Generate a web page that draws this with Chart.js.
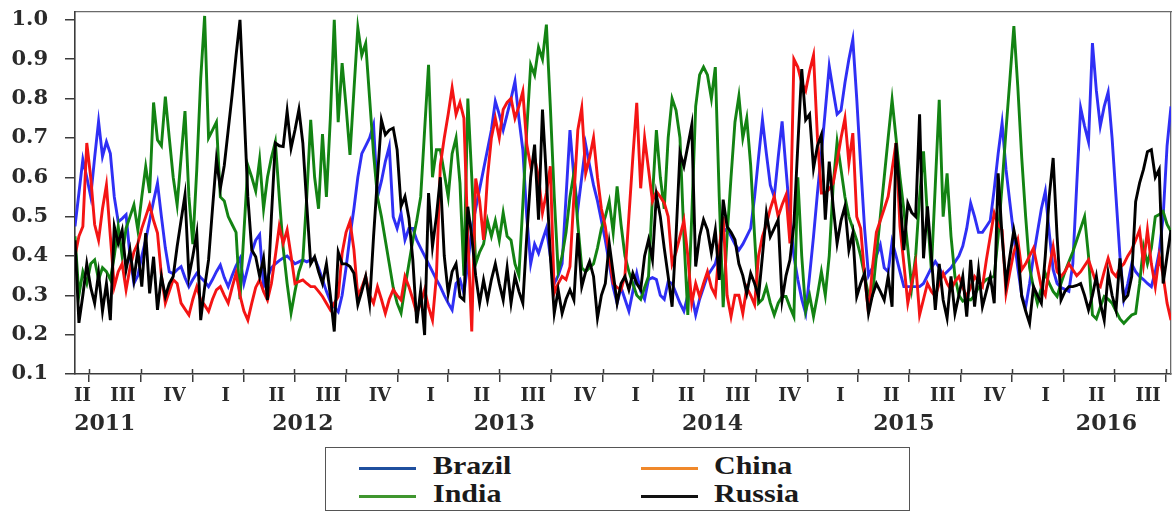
<!DOCTYPE html>
<html>
<head>
<meta charset="utf-8">
<title>BRIC weekly index, 2011–2016</title>
<script src="https://cdn.jsdelivr.net/npm/chart.js@4.4.1/dist/chart.umd.min.js"></script>
<style>
  html, body { margin: 0; padding: 0; background: #fff; }
  #wrap { position: relative; width: 1174px; height: 513px; overflow: hidden; }
  #chart { position: absolute; left: 0; top: 0; }
  #legend {
    position: absolute; left: 325px; top: 447px; width: 585px; height: 64px;
    border: 1.5px solid #555; box-sizing: border-box; background: #fff;
  }
  #legend .sw { position: absolute; width: 57px; height: 3px; }
  #legend .tx {
    position: absolute; height: 26px; line-height: 26px; white-space: nowrap;
    font-family: "Liberation Serif", "Times New Roman", serif; font-weight: bold;
    font-size: 25px; color: #1a1a1a; transform: scaleX(1.2); transform-origin: left center;
  }
</style>
</head>
<body>
<div id="wrap">
  <canvas id="chart" width="1174" height="513"></canvas>
  <div id="legend"></div>
</div>
<script>
// ---- data: one observation per week, first week starting 2011-06-06 ----
const firstWeek = '2011-06-06';

const brazil = [
  0.475, 0.56, 0.645, 0.60, 0.551, 0.65, 0.742, 0.653, 0.69, 0.66,
  0.55, 0.487, 0.495, 0.505, 0.40, 0.33, 0.35, 0.40, 0.44, 0.49,
  0.54, 0.585, 0.50, 0.42, 0.36, 0.355, 0.365, 0.373, 0.345, 0.322,
  0.34, 0.356, 0.345, 0.335, 0.322, 0.34, 0.36, 0.377, 0.345, 0.322,
  0.35, 0.375, 0.394, 0.33, 0.37, 0.41, 0.44, 0.454, 0.322, 0.345,
  0.37, 0.38, 0.388, 0.395, 0.40, 0.39, 0.38, 0.385, 0.39, 0.385,
  0.39, 0.394, 0.37, 0.34, 0.31, 0.285, 0.27, 0.258, 0.30, 0.37,
  0.45, 0.52, 0.60, 0.66, 0.68, 0.70, 0.733, 0.55, 0.59, 0.64,
  0.678, 0.50, 0.47, 0.509, 0.441, 0.47, 0.47, 0.44, 0.42, 0.40,
  0.38, 0.36, 0.34, 0.322, 0.30, 0.28, 0.263, 0.33, 0.34, 0.305,
  0.38, 0.47, 0.52, 0.57, 0.62, 0.67, 0.72, 0.793, 0.76, 0.72,
  0.76, 0.80, 0.844, 0.75, 0.67, 0.50, 0.38, 0.43, 0.407, 0.44,
  0.47, 0.40, 0.33, 0.35, 0.38, 0.55, 0.72, 0.60, 0.52, 0.60,
  0.683, 0.63, 0.58, 0.54, 0.49, 0.44, 0.38, 0.32, 0.28, 0.32,
  0.29, 0.26, 0.31, 0.356, 0.31, 0.29, 0.34, 0.345, 0.34, 0.30,
  0.29, 0.335, 0.33, 0.305, 0.28, 0.26, 0.30, 0.30, 0.25, 0.29,
  0.32, 0.35, 0.365, 0.38, 0.42, 0.46, 0.47, 0.45, 0.43, 0.415,
  0.43, 0.45, 0.47, 0.55, 0.65, 0.746, 0.66, 0.58, 0.55, 0.65,
  0.742, 0.62, 0.50, 0.40, 0.34, 0.29, 0.254, 0.35, 0.45, 0.56,
  0.66, 0.77, 0.882, 0.82, 0.76, 0.77, 0.84, 0.90, 0.95, 0.80,
  0.63, 0.47, 0.35, 0.37, 0.40, 0.428, 0.37, 0.36, 0.437, 0.40,
  0.36, 0.322, 0.322, 0.322, 0.322, 0.322, 0.33, 0.35, 0.37, 0.386,
  0.37, 0.35, 0.36, 0.37, 0.385, 0.40, 0.425, 0.47, 0.534, 0.50,
  0.46, 0.46, 0.475, 0.49, 0.57, 0.66, 0.738, 0.62, 0.534, 0.45,
  0.37, 0.30, 0.27, 0.33, 0.40, 0.46, 0.52, 0.564, 0.46, 0.365,
  0.33, 0.32, 0.315, 0.31, 0.38, 0.58, 0.776, 0.73, 0.69, 0.941,
  0.82, 0.73, 0.78, 0.816, 0.70, 0.55, 0.40, 0.29, 0.33, 0.38,
  0.36, 0.348, 0.34, 0.33, 0.322, 0.36, 0.41, 0.50, 0.68, 0.78
];

const china = [
  0.40, 0.45, 0.475, 0.687, 0.60, 0.48, 0.44, 0.52, 0.58, 0.45,
  0.322, 0.36, 0.38, 0.314, 0.37, 0.41, 0.432, 0.47, 0.50, 0.53,
  0.49, 0.458, 0.35, 0.28, 0.31, 0.34, 0.33, 0.28, 0.265, 0.25,
  0.29, 0.322, 0.288, 0.275, 0.259, 0.29, 0.314, 0.322, 0.30, 0.28,
  0.32, 0.356, 0.30, 0.26, 0.237, 0.28, 0.32, 0.339, 0.31, 0.288,
  0.33, 0.40, 0.475, 0.432, 0.466, 0.40, 0.33, 0.335, 0.339, 0.33,
  0.322, 0.322, 0.31, 0.297, 0.28, 0.263, 0.28, 0.297, 0.407, 0.46,
  0.488, 0.416, 0.297, 0.32, 0.348, 0.30, 0.28, 0.322, 0.29, 0.254,
  0.29, 0.314, 0.30, 0.288, 0.348, 0.322, 0.29, 0.254, 0.28, 0.314,
  0.27, 0.237, 0.348, 0.63, 0.70, 0.76, 0.827, 0.76, 0.79, 0.75,
  0.45, 0.208, 0.597, 0.54, 0.441, 0.60, 0.70, 0.75, 0.70, 0.772,
  0.79, 0.80, 0.75, 0.78, 0.818, 0.683, 0.628, 0.65, 0.60, 0.51,
  0.56, 0.628, 0.305, 0.33, 0.348, 0.34, 0.373, 0.55, 0.72, 0.776,
  0.61, 0.65, 0.70, 0.60, 0.52, 0.475, 0.40, 0.33, 0.32, 0.314,
  0.35, 0.50, 0.65, 0.789, 0.572, 0.70, 0.62, 0.539, 0.564, 0.55,
  0.535, 0.50, 0.38, 0.41, 0.45, 0.49, 0.40, 0.28, 0.33, 0.297,
  0.33, 0.36, 0.32, 0.30, 0.42, 0.50, 0.30, 0.246, 0.30, 0.30,
  0.254, 0.32, 0.30, 0.276, 0.40, 0.45, 0.48, 0.52, 0.551, 0.50,
  0.53, 0.555, 0.432, 0.90, 0.88, 0.84, 0.82, 0.87, 0.91, 0.70,
  0.56, 0.56, 0.57, 0.585, 0.64, 0.70, 0.75, 0.636, 0.712, 0.50,
  0.47, 0.35, 0.254, 0.37, 0.46, 0.49, 0.52, 0.551, 0.62, 0.687,
  0.475, 0.38, 0.28, 0.33, 0.38, 0.25, 0.29, 0.33, 0.31, 0.297,
  0.33, 0.356, 0.33, 0.314, 0.335, 0.348, 0.32, 0.297, 0.32, 0.348,
  0.335, 0.322, 0.39, 0.45, 0.509, 0.48, 0.466, 0.305, 0.36, 0.41,
  0.441, 0.365, 0.38, 0.40, 0.42, 0.37, 0.32, 0.30, 0.37, 0.424,
  0.36, 0.348, 0.36, 0.38, 0.365, 0.35, 0.36, 0.375, 0.39, 0.36,
  0.33, 0.322, 0.36, 0.394, 0.36, 0.348, 0.37, 0.38, 0.40, 0.416,
  0.44, 0.466, 0.38, 0.466, 0.38, 0.322, 0.40, 0.35, 0.28, 0.237
];

const india = [
  0.45, 0.30, 0.36, 0.33, 0.38, 0.39, 0.34, 0.37, 0.36, 0.34,
  0.40, 0.475, 0.40, 0.47, 0.50, 0.53, 0.466, 0.55, 0.627, 0.56,
  0.79, 0.695, 0.68, 0.805, 0.70, 0.60, 0.53, 0.65, 0.768, 0.55,
  0.43, 0.62, 0.85, 1.01, 0.70, 0.72, 0.74, 0.55, 0.54, 0.50,
  0.48, 0.46, 0.29, 0.46, 0.63, 0.60, 0.565, 0.645, 0.52, 0.60,
  0.65, 0.69, 0.55, 0.42, 0.33, 0.255, 0.31, 0.36, 0.39, 0.55,
  0.746, 0.60, 0.52, 0.71, 0.55, 0.75, 1.00, 0.74, 0.89, 0.78,
  0.657, 0.82, 0.98, 0.91, 0.94, 0.80, 0.66, 0.55, 0.50, 0.44,
  0.38, 0.32, 0.28, 0.255, 0.32, 0.38, 0.44, 0.49, 0.55, 0.72,
  0.886, 0.60, 0.67, 0.67, 0.61, 0.55, 0.66, 0.70, 0.585, 0.35,
  0.80, 0.60, 0.38, 0.41, 0.43, 0.49, 0.45, 0.49, 0.44, 0.51,
  0.45, 0.44, 0.38, 0.35, 0.53, 0.72, 0.886, 0.86, 0.93, 0.90,
  0.988, 0.78, 0.551, 0.36, 0.40, 0.46, 0.55, 0.61, 0.48, 0.37,
  0.36, 0.37, 0.38, 0.42, 0.47, 0.50, 0.539, 0.46, 0.577, 0.48,
  0.40, 0.36, 0.33, 0.30, 0.29, 0.32, 0.348, 0.55, 0.72, 0.60,
  0.52, 0.70, 0.80, 0.77, 0.70, 0.45, 0.25, 0.50, 0.78, 0.86,
  0.88, 0.86, 0.80, 0.88, 0.55, 0.27, 0.45, 0.60, 0.74, 0.806,
  0.70, 0.75, 0.63, 0.45, 0.28, 0.29, 0.322, 0.28, 0.25, 0.28,
  0.297, 0.297, 0.27, 0.246, 0.60, 0.40, 0.26, 0.30, 0.246, 0.30,
  0.36, 0.30, 0.40, 0.58, 0.69, 0.62, 0.55, 0.50, 0.47, 0.44,
  0.40, 0.35, 0.30, 0.30, 0.40, 0.50, 0.60, 0.70, 0.797, 0.70,
  0.60, 0.517, 0.42, 0.32, 0.40, 0.55, 0.666, 0.50, 0.365, 0.58,
  0.797, 0.50, 0.61, 0.45, 0.348, 0.30, 0.285, 0.29, 0.288, 0.30,
  0.32, 0.33, 0.34, 0.345, 0.348, 0.45, 0.58, 0.72, 0.85, 0.984,
  0.83, 0.65, 0.50, 0.37, 0.32, 0.28, 0.32, 0.356, 0.33, 0.31,
  0.297, 0.33, 0.36, 0.385, 0.41, 0.44, 0.47, 0.50, 0.40, 0.25,
  0.24, 0.27, 0.297, 0.29, 0.28, 0.26, 0.24, 0.229, 0.24, 0.25,
  0.254, 0.33, 0.424, 0.38, 0.42, 0.50, 0.505, 0.513, 0.48, 0.462
];

const russia = [
  0.44, 0.23, 0.30, 0.38, 0.32, 0.28, 0.356, 0.26, 0.33, 0.237,
  0.475, 0.432, 0.466, 0.365, 0.415, 0.339, 0.415, 0.322, 0.458, 0.305,
  0.398, 0.263, 0.348, 0.297, 0.33, 0.348, 0.424, 0.49, 0.555, 0.348,
  0.40, 0.458, 0.237, 0.32, 0.39, 0.52, 0.645, 0.572, 0.63, 0.72,
  0.81, 0.91, 1.00, 0.78, 0.55, 0.415, 0.398, 0.348, 0.394, 0.288,
  0.50, 0.687, 0.68, 0.678, 0.768, 0.674, 0.72, 0.772, 0.687, 0.53,
  0.38, 0.398, 0.36, 0.33, 0.38, 0.30, 0.208, 0.41, 0.38, 0.38,
  0.373, 0.356, 0.276, 0.31, 0.348, 0.28, 0.449, 0.60, 0.746, 0.708,
  0.72, 0.725, 0.67, 0.526, 0.551, 0.496, 0.39, 0.229, 0.314, 0.199,
  0.56, 0.424, 0.50, 0.60, 0.40, 0.305, 0.36, 0.38, 0.297, 0.288,
  0.525, 0.449, 0.35, 0.28, 0.339, 0.288, 0.34, 0.38, 0.33, 0.288,
  0.37, 0.28, 0.348, 0.31, 0.28, 0.45, 0.60, 0.683, 0.492, 0.772,
  0.60, 0.40, 0.254, 0.314, 0.254, 0.29, 0.314, 0.288, 0.458, 0.322,
  0.36, 0.386, 0.348, 0.242, 0.30, 0.33, 0.432, 0.356, 0.28, 0.33,
  0.348, 0.314, 0.356, 0.33, 0.314, 0.40, 0.441, 0.39, 0.555, 0.50,
  0.42, 0.348, 0.271, 0.45, 0.662, 0.628, 0.68, 0.733, 0.373, 0.45,
  0.492, 0.466, 0.407, 0.466, 0.339, 0.543, 0.475, 0.46, 0.441, 0.38,
  0.35, 0.305, 0.356, 0.33, 0.297, 0.40, 0.509, 0.449, 0.47, 0.492,
  0.288, 0.35, 0.39, 0.48, 0.68, 0.875, 0.746, 0.76, 0.623, 0.68,
  0.708, 0.492, 0.64, 0.526, 0.432, 0.49, 0.526, 0.415, 0.458, 0.297,
  0.33, 0.356, 0.254, 0.30, 0.33, 0.31, 0.288, 0.348, 0.271, 0.687,
  0.55, 0.415, 0.534, 0.51, 0.50, 0.76, 0.394, 0.526, 0.40, 0.263,
  0.38, 0.288, 0.242, 0.348, 0.254, 0.30, 0.348, 0.246, 0.39, 0.271,
  0.365, 0.271, 0.31, 0.348, 0.28, 0.61, 0.45, 0.33, 0.40, 0.466,
  0.415, 0.297, 0.26, 0.229, 0.322, 0.30, 0.28, 0.40, 0.55, 0.649,
  0.45, 0.288, 0.31, 0.322, 0.322, 0.325, 0.33, 0.30, 0.263, 0.30,
  0.348, 0.28, 0.237, 0.356, 0.30, 0.263, 0.394, 0.288, 0.30, 0.348,
  0.538, 0.585, 0.62, 0.665, 0.67, 0.60, 0.62, 0.33, 0.40, 0.466
];

const seriesNames = ['Brazil', 'China', 'India', 'Russia'];
const quarterNames = ['I', 'II', 'III', 'IV'];
const yearLabels = ['2011', '2012', '2013', '2014', '2015', '2016'];
const yTickValues = [0.1, 0.2, 0.3, 0.4, 0.5, 0.6, 0.7, 0.8, 0.9, 1.0];

// ---- styling ----
const lineColors   = ['#2f2ff5', '#f41414', '#138313', '#000000'];
const legendColors = ['#1f4f9e', '#f0882a', '#3f962f', '#111111'];
const tickFont  = { family: 'DejaVu Serif', weight: 'bold', size: 21 };
const qFont     = { family: 'DejaVu Serif', weight: 'bold', size: 18 };
const yearFont  = { family: 'DejaVu Serif', weight: 'bold', size: 22 };
const axisColor = '#3c3c3c';
const frameColor = '#6a6a6a';
// anchor dates for the year captions under the quarter row
const yearLabelAnchor = ['2011-07-29', '2012-07-16', '2013-07-10', '2014-07-16', '2015-06-22', '2016-06-17'];

// ---- week arithmetic ----
const WEEK_MS = 7 * 24 * 3600 * 1000;
const t0 = Date.parse(firstWeek + 'T00:00:00Z');
const weekOf = iso => (Date.parse(iso + 'T00:00:00Z') - t0) / WEEK_MS;
const nWeeks = brazil.length;
const xMin = 0, xMax = nWeeks - 1;

// quarter boundaries inside the plotted range, and quarter captions
const boundaries = [];
const qTicks = [];
for (let y = 2011; y <= 2016; y++) {
  for (let q = 0; q < 4; q++) {
    const m = 3 * q + 1;
    const start = weekOf(`${y}-${String(m).padStart(2, '0')}-01`);
    const nextIso = q === 3 ? `${y + 1}-01-01` : `${y}-${String(m + 3).padStart(2, '0')}-01`;
    const end = weekOf(nextIso);
    if (end <= xMin || start >= xMax - 3) continue;
    if (start > xMin) boundaries.push(start);
    const pos = Math.max(start + 0.655 * (end - start), xMin + 1.9);
    qTicks.push({ value: pos, label: quarterNames[q] });
  }
}
const lastEnd = weekOf('2016-10-01');
if (lastEnd < xMax) boundaries.push(lastEnd);
const yearTicks = yearLabels.map((lab, i) => ({ value: weekOf(yearLabelAnchor[i]), label: lab }));

const toPoints = arr => arr.map((v, i) => ({ x: i, y: v }));
const allSeries = [brazil, china, india, russia];
const drawOrder = [3, 1, 2, 0]; // Russia on top, Brazil underneath

const datasets = allSeries.map((arr, i) => ({
  label: seriesNames[i],
  data: toPoints(arr),
  borderColor: lineColors[i],
  backgroundColor: lineColors[i],
  borderWidth: 2.9,
  pointRadius: 0,
  tension: 0,
  fill: false,
  order: drawOrder[i]
}));

// short tick marks that also reach a little into the plot from the time axis
const innerTicks = {
  id: 'innerTicks',
  afterDraw(chart) {
    const s = chart.scales.x, a = chart.chartArea, c = chart.ctx;
    c.save();
    c.strokeStyle = axisColor;
    c.lineWidth = 1.5;
    s.ticks.forEach(t => {
      const px = Math.round(s.getPixelForValue(t.value)) + 0.5;
      c.beginPath();
      c.moveTo(px, a.bottom - 5);
      c.lineTo(px, a.bottom);
      c.stroke();
    });
    c.restore();
  }
};

// fixed axis sizes, no extra edge padding for end labels
const fixSize = (w, h) => s => {
  if (w !== null) s.width = w;
  if (h !== null) s.height = h;
  s.paddingLeft = 0; s.paddingRight = 0; s.paddingTop = 0; s.paddingBottom = 0;
};

const frameAxis = (pos, min, max, w, h) => ({
  type: 'linear', position: pos, min, max,
  ticks: { display: false },
  grid: { drawOnChartArea: false, drawTicks: false },
  border: { color: frameColor, width: 1.3 },
  afterFit: fixSize(w, h)
});

new Chart(document.getElementById('chart'), {
  type: 'line',
  data: { datasets },
  plugins: [innerTicks],
  options: {
    responsive: false,
    animation: false,
    parsing: false,
    layout: { padding: { top: 12, right: 3, bottom: 72, left: 0 } },
    plugins: { legend: { display: false }, tooltip: { enabled: false } },
    scales: {
      x: {
        type: 'linear', position: 'bottom', weight: 0, min: xMin, max: xMax,
        afterBuildTicks: s => { s.ticks = boundaries.map(v => ({ value: v })); },
        ticks: { display: false },
        grid: { drawOnChartArea: false, drawTicks: true, tickLength: 8, color: axisColor, lineWidth: 1.5 },
        border: { color: axisColor, width: 1.6 },
        afterFit: fixSize(null, 8)
      },
      xq: {
        type: 'linear', position: 'bottom', weight: 1, min: xMin, max: xMax,
        afterBuildTicks: s => { s.ticks = qTicks.map(t => ({ value: t.value })); },
        ticks: {
          autoSkip: false, maxRotation: 0, padding: 4, font: qFont, color: '#2a2a2a',
          callback: (v, i) => qTicks[i] ? qTicks[i].label : ''
        },
        grid: { display: false, drawTicks: false },
        border: { display: false },
        afterFit: fixSize(null, 29)
      },
      xy: {
        type: 'linear', position: 'bottom', weight: 2, min: xMin, max: xMax,
        afterBuildTicks: s => { s.ticks = yearTicks.map(t => ({ value: t.value })); },
        ticks: {
          autoSkip: false, maxRotation: 0, padding: 0, font: yearFont, color: '#2a2a2a',
          callback: (v, i) => yearTicks[i] ? yearTicks[i].label : ''
        },
        grid: { display: false, drawTicks: false },
        border: { display: false },
        afterFit: fixSize(null, 30)
      },
      xt: frameAxis('top', xMin, xMax, null, 0),
      y: {
        type: 'linear', position: 'left', min: 0.1, max: 1.02,
        afterBuildTicks: s => { s.ticks = yTickValues.map(v => ({ value: v })); },
        ticks: { padding: 17, font: tickFont, color: '#2a2a2a', callback: v => v.toFixed(1) },
        grid: { drawOnChartArea: false, tickLength: 10, color: axisColor, lineWidth: 1.5 },
        border: { color: axisColor, width: 1.6 },
        afterFit: fixSize(75, null)
      },
      yr: frameAxis('right', 0.1, 1.02, 0, null)
    }
  }
});

// legend: two columns, two rows, framed
const legendEl = document.getElementById('legend');
const swLeft = [33, 315], txLeft = [107, 388], rowY = [18, 46];
seriesNames.forEach((name, i) => {
  const col = i % 2, row = Math.floor(i / 2);
  const sw = document.createElement('div');
  sw.className = 'sw';
  sw.style.left = swLeft[col] + 'px';
  sw.style.top = (rowY[row] + 1) + 'px';
  sw.style.background = legendColors[i];
  const tx = document.createElement('div');
  tx.className = 'tx';
  tx.style.left = txLeft[col] + 'px';
  tx.style.top = (rowY[row] - 13) + 'px';
  tx.textContent = name;
  legendEl.appendChild(sw);
  legendEl.appendChild(tx);
});
</script>
</body>
</html>
